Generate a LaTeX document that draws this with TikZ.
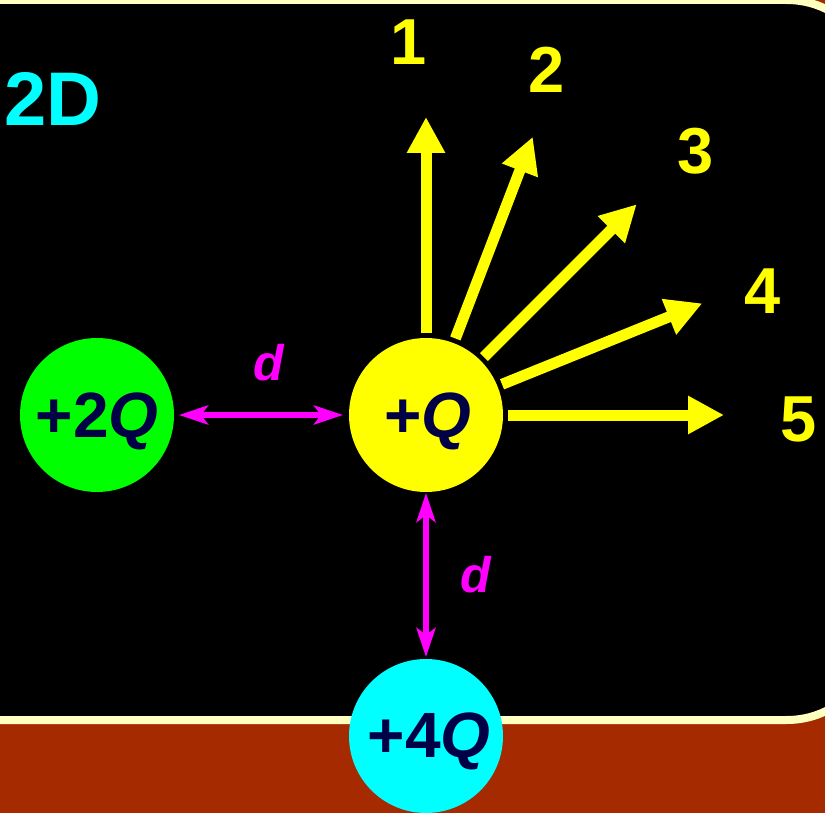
\documentclass[tikz,border=0pt]{standalone}
\usepackage{fontspec}
\setmainfont{Liberation Sans}
\usetikzlibrary{arrows.meta}
\definecolor{brownbg}{RGB}{165,42,0}
\definecolor{cream}{RGB}{255,255,192}
\definecolor{navy}{RGB}{0,0,70}
\definecolor{pyellow}{RGB}{255,255,0}
\definecolor{pcyan}{RGB}{0,255,255}
\definecolor{pgreen}{RGB}{0,255,0}
\definecolor{pmagenta}{RGB}{255,0,255}
\begin{document}
\begin{tikzpicture}[x=1pt,y=-1pt,
  charge/.style={circle, minimum size=154pt, inner sep=0pt, outer sep=0pt},
  qlabel/.style={anchor=base, text=navy, inner sep=0pt, font=\fontsize{64}{70}\selectfont\bfseries},
  numlabel/.style={anchor=base, text=pyellow, inner sep=0pt, font=\fontsize{65}{70}\selectfont\bfseries},
  field/.style={draw=pyellow, line width=11pt, -{Triangle[length=36pt,width=36pt]}},
  dist/.style={draw=pmagenta, line width=6pt, {Stealth[length=29pt,width=19pt,inset=7pt]}-{Stealth[length=29pt,width=19pt,inset=7pt]}},
  dlabel/.style={anchor=base, text=pmagenta, inner sep=0pt, font=\fontsize{50}{56}\selectfont\bfseries\itshape}]
\useasboundingbox (0,0) rectangle (825,813);
\clip (0,0) rectangle (825,813);
\fill[brownbg] (0,0) rectangle (825,813);
\draw[cream, line width=8pt, fill=black, rounded corners=89pt] (-200,0) rectangle (876,720);

\node[anchor=base, text=pcyan, inner sep=0pt, font=\fontsize{76}{80}\selectfont\bfseries] (title) at (53,126) {2D};

\node[charge, fill=pgreen] (g) at (97,415) {};
\node[charge, fill=pyellow] (q) at (426,415) {};
\node[charge, fill=pcyan] (c) at (426,736) {};

\node[qlabel] (gl) at (97,437) {+2\textit{Q}};
\node[qlabel] (ql) at (428,437) {+\textit{Q}};
\node[qlabel] (cl) at (429,757) {+4\textit{Q}};

\foreach \a/\n in {90/1,69/2,45/3,22/4,0/5}{
  \coordinate (t\n) at ([shift={(\a:298pt)}]q.center);
  \draw[field, shorten <=5pt] (q.\a) -- (t\n);
}

\node[numlabel] (n1) at (409,65) {1};
\node[numlabel] (n2) at (547,93) {2};
\node[numlabel] (n3) at (696,174) {3};
\node[numlabel] (n4) at (763,313) {4};
\node[numlabel] (n5) at (799,441) {5};

\draw[dist, shorten <=5pt, shorten >=6pt] (g) -- (q);
\draw[dist, shorten <=1pt, shorten >=2pt] (q) -- (c);

\node[dlabel] (d1) at (269,380) {d};
\node[dlabel] (d2) at (476,592) {d};
\end{tikzpicture}
\end{document}
